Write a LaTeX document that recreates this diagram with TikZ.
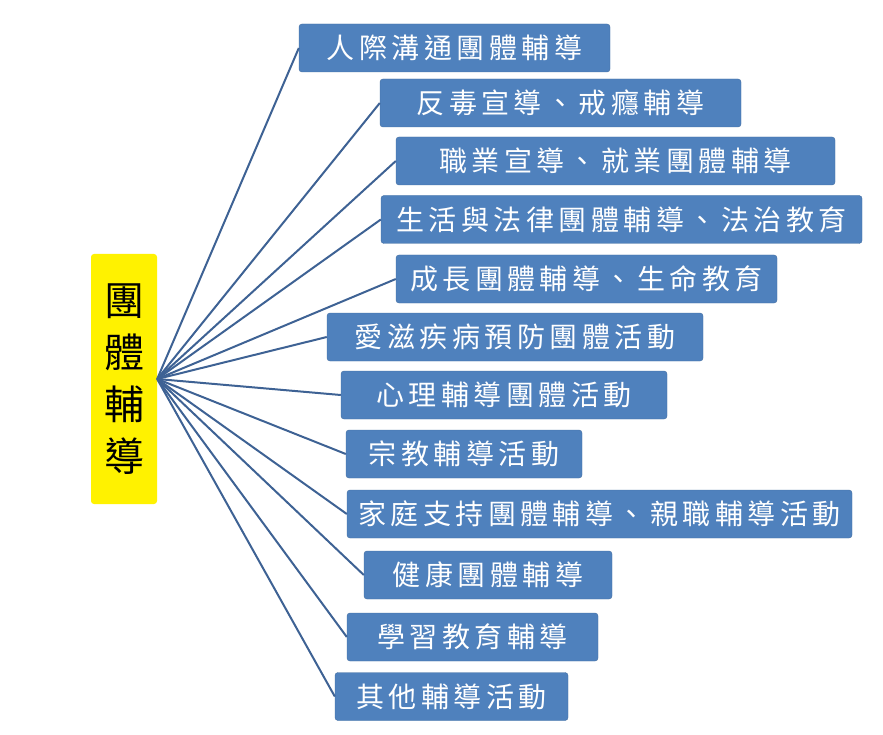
\documentclass[tikz,border=0pt]{standalone}
\usepackage{fontspec}
\newfontfamily\cjk{Noto Sans CJK TC}
\newfontfamily\cjkwide[LetterSpace=16]{Noto Sans CJK TC}
\definecolor{boxblue}{RGB}{79,129,189}
\definecolor{linkblue}{RGB}{62,98,148}
\usetikzlibrary{positioning}

\begin{document}
\begin{tikzpicture}[
  x=1pt, y=-1pt,
  core/.style={rectangle, rounded corners=3pt, fill=yellow, inner sep=0pt, align=center,
    minimum width=66pt, minimum height=250pt, font=\cjk\fontsize{40}{52}\selectfont},
  item/.style={rectangle, rounded corners=3pt, fill=boxblue, draw=boxblue!85!black, line width=0.4pt,
    inner sep=0pt, minimum height=48pt, text=white, font=\cjkwide\fontsize{28}{32}\selectfont},
  link/.style={draw=linkblue, line width=2pt},
]
\useasboundingbox (0,0) rectangle (883,735);

% === Root ===
\node[core] (root) at (124,379) {團\\體\\輔\\導};

% === Branches ===
\node[item, minimum width=311pt] (b1)  at (454.5,48)  {人際溝通團體輔導};
\node[item, minimum width=361pt] (b2)  at (560.5,103) {反毒宣導、戒癮輔導};
\node[item, minimum width=439pt] (b3)  at (615.5,161) {職業宣導、就業團體輔導};
\node[item, minimum width=481pt] (b4)  at (621.5,219.5) {生活與法律團體輔導、法治教育};
\node[item, minimum width=381pt] (b5)  at (586.5,279) {成長團體輔導、生命教育};
\node[item, minimum width=376pt] (b6)  at (515,337)   {愛滋疾病預防團體活動};
\node[item, minimum width=326pt] (b7)  at (504,395)   {心理輔導團體活動};
\node[item, minimum width=236pt] (b8)  at (464,454)   {宗教輔導活動};
\node[item, minimum width=505pt] (b9)  at (599.5,514) {家庭支持團體輔導、親職輔導活動};
\node[item, minimum width=248pt] (b10) at (488,575)   {健康團體輔導};
\node[item, minimum width=251pt] (b11) at (472.5,637) {學習教育輔導};
\node[item, minimum width=233pt] (b12) at (451.5,696.5) {其他輔導活動};

% === Links ===
\foreach \i in {1,...,12}
  \draw[link] (root.east) -- (b\i.west);

\end{tikzpicture}
\end{document}
